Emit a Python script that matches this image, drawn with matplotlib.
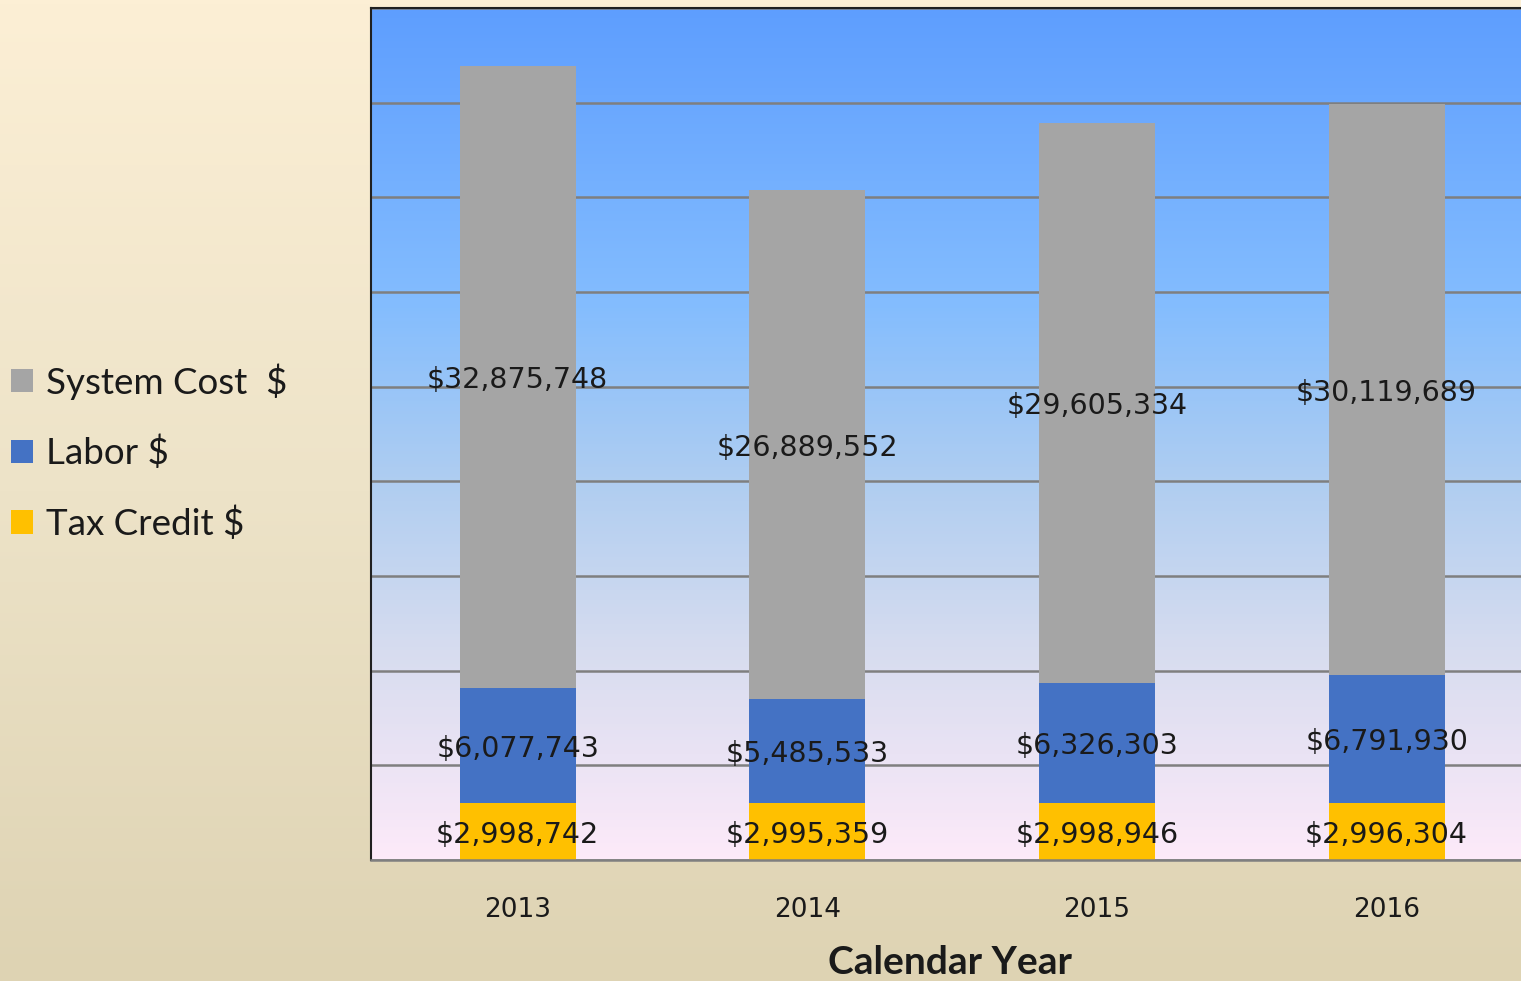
import numpy as np
import matplotlib
matplotlib.use("Agg")
import matplotlib.pyplot as plt
from matplotlib.colors import LinearSegmentedColormap
from matplotlib.transforms import offset_copy

years = ["2013", "2014", "2015", "2016"]
tax_credit = [2998742, 2995359, 2998946, 2996304]
labor = [6077743, 5485533, 6326303, 6791930]
system_cost = [32875748, 26889552, 29605334, 30119689]

series_names = ["Tax Credit $", "Labor $", "System Cost  $"]
series_colors = ["#FFC000", "#4472C4", "#A5A5A5"]

W, H = 1521, 981
fig = plt.figure(figsize=(W / 100, H / 100), dpi=100)

# figure background gradient
bg = fig.add_axes([0, 0, 1, 1], zorder=-10)
bg_cmap = LinearSegmentedColormap.from_list("bg", ["#DED3B3", "#EDE3C8", "#FCEFD5"])
grad = np.linspace(0, 1, 256).reshape(-1, 1)
bg.imshow(grad, cmap=bg_cmap, aspect="auto", extent=[0, 1, 0, 1], origin="lower")
bg.set_axis_off()

ax_left = 371 / W
ax_bottom = (H - 860) / H
ax_height = (860 - 8) / H
xmin, xmax = -0.506, 3.5
unit = 289.67
ax_width = (xmax - xmin) * unit / W
ax = fig.add_axes([ax_left, ax_bottom, ax_width, ax_height])

ymax = 45_000_000
ax.set_xlim(xmin, xmax)
ax.set_ylim(0, ymax)

ax_cmap = LinearSegmentedColormap.from_list(
    "axbg",
    [(0.0, "#FDEAF9"), (0.25, "#D6DCEF"), (0.45, "#AECDF1"), (0.65, "#84BDFE"), (1.0, "#5E9EFF")],
)
ax.imshow(grad, cmap=ax_cmap, aspect="auto", extent=[xmin, xmax, 0, ymax],
          origin="lower", zorder=0)

ax.set_yticks(np.arange(0, ymax + 1, 5_000_000))
ax.yaxis.grid(True, color="#7F7F7F", linewidth=1.8, zorder=1)
ax.set_axisbelow(True)
ax.tick_params(axis="y", left=False, labelleft=False)
ax.tick_params(axis="x", bottom=False, labelsize=19, pad=23, colors="#1A1A1A")

label_tr = offset_copy(ax.transData, fig=fig, x=0, y=-3, units="dots")

x = np.arange(len(years))
bottoms = np.zeros(len(years))
handles = []
for vals, name, col in zip([tax_credit, labor, system_cost], series_names, series_colors):
    vals = np.array(vals, dtype=float)
    b = ax.bar(x, vals, 0.4, bottom=bottoms, color=col, label=name, zorder=2)
    handles.append(b)
    for xi, v, bt in zip(x, vals, bottoms):
        ax.text(xi, bt + v / 2, f"${int(v):,}", ha="center", va="center",
                fontsize=20.5, color="#1A1A1A", zorder=3, family="DejaVu Sans",
                transform=label_tr)
    bottoms = bottoms + vals

ax.set_xticks(x)
ax.set_xticklabels(years, family="DejaVu Sans")

for side in ["left", "top"]:
    ax.spines[side].set_color("#202020")
    ax.spines[side].set_linewidth(1.5)
ax.spines["bottom"].set_color("#7F7F7F")
ax.spines["bottom"].set_linewidth(1.8)
ax.spines["right"].set_visible(False)

fig.text(950 / W, 1 - 963 / H, "Calendar Year", ha="center", va="center",
         fontsize=28, fontweight="bold", family="Lato", color="#1A1A1A")

leg = fig.legend(handles[::-1], series_names[::-1], loc="center left",
                 bbox_to_anchor=(0.0, 1 - 452 / H), frameon=False,
                 prop={"family": "Lato", "size": 26.5}, handlelength=0.6,
                 handleheight=0.6, handletextpad=0.35, labelspacing=0.98,
                 borderaxespad=0.0, borderpad=0.3)
for t in leg.get_texts():
    t.set_color("#1A1A1A")

fig.savefig("out.png", dpi=100)
